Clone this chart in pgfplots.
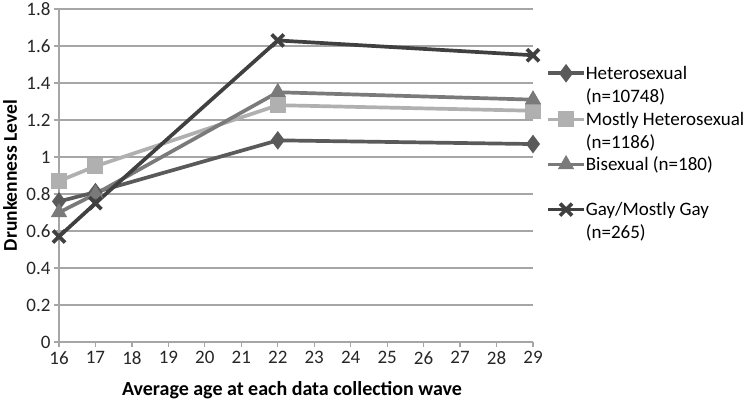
\documentclass[border=0pt]{standalone}
\usepackage{fontspec}
\setmainfont{Carlito}
\usepackage{pgfplots}
\pgfplotsset{compat=1.18}
\definecolor{cHet}{HTML}{5A5A5A}
\definecolor{cMost}{HTML}{B0B0B0}
\definecolor{cBi}{HTML}{7A7A7A}
\definecolor{cGay}{HTML}{404040}
\definecolor{cGrid}{HTML}{A6A6A6}
\begin{document}
\begin{tikzpicture}
\useasboundingbox (-59bp,-63bp) rectangle (691bp,342bp);
\begin{axis}[
  at={(0,0)}, anchor=south west,
  scale only axis, width=474bp, height=333bp,
  xmin=16, xmax=29, ymin=0, ymax=1.8,
  xtick={16,17,18,19,20,21,22,23,24,25,26,27,28,29},
  ytick={0,0.2,0.4,0.6,0.8,1,1.2,1.4,1.6,1.8},
  yticklabels={0,0.2,0.4,0.6,0.8,1,1.2,1.4,1.6,1.8},
  axis lines=left,
  axis line style={cGrid, line width=1.2bp, -},
  ymajorgrids, grid style={cGrid, line width=1.2bp},
  tick style={cGrid, line width=1.2bp},
  tick align=outside, major tick length=5bp,
  /pgf/number format/assume math mode=true,
  tick label style={font=\fontsize{19bp}{22bp}\selectfont, text=black!85},
  xticklabel style={yshift=-1bp},
  xlabel={Average age at each data collection wave},
  ylabel={Drunkenness Level},
  every axis x label/.style={at={(axis description cs:0.5,0)}, anchor=center, yshift=-48bp, xshift=-4bp,
    font=\bfseries\fontsize{20bp}{24bp}\selectfont},
  every axis y label/.style={at={(axis description cs:-0.103,0.5)}, anchor=center, rotate=90,
    font=\bfseries\fontsize{19.5bp}{24bp}\selectfont},
  every axis plot/.append style={line width=3.7bp},
  legend style={at={(484bp,281bp)}, anchor=north west, draw=none, fill=none,
    font=\fontsize{19bp}{23bp}\selectfont, row sep=27.5bp, column sep=0bp,
    nodes={inner sep=0pt, anchor=base west}},
  legend cell align=left,
  legend image code/.code={\draw[mark repeat=2, mark phase=2] plot coordinates {(0bp,6bp) (18bp,6bp) (36bp,6bp)};},
]
\addplot[color=cHet, mark=diamond*, mark size=8.5bp, mark options={solid, line width=1bp, fill=cHet}]
  coordinates {(16,0.76) (17,0.81) (22,1.09) (29,1.07)};
\addlegendentry{\begin{tabular}[t]{@{}l@{}}Heterosexual\\(n=10748)\end{tabular}}
\addplot[color=cMost, mark=square*, mark size=7.5bp, mark options={solid, line width=1bp, fill=cMost}]
  coordinates {(16,0.87) (17,0.95) (22,1.28) (29,1.25)};
\addlegendentry{\begin{tabular}[t]{@{}l@{}}Mostly Heterosexual\\(n=1186)\end{tabular}}
\addplot[color=cBi, mark=triangle*, mark size=8.5bp, mark options={solid, line width=1bp, fill=cBi}]
  coordinates {(16,0.70) (17,0.80) (22,1.35) (29,1.31)};
\addlegendentry{\begin{tabular}[t]{@{}l@{}}Bisexual (n=180)\\\mbox{}\end{tabular}}
\addplot[color=cGay, mark=x, mark size=8.5bp, mark options={solid, line width=3.7bp}]
  coordinates {(16,0.57) (17,0.75) (22,1.63) (29,1.55)};
\addlegendentry{\begin{tabular}[t]{@{}l@{}}Gay/Mostly Gay\\(n=265)\end{tabular}}
\end{axis}
\end{tikzpicture}
\end{document}
